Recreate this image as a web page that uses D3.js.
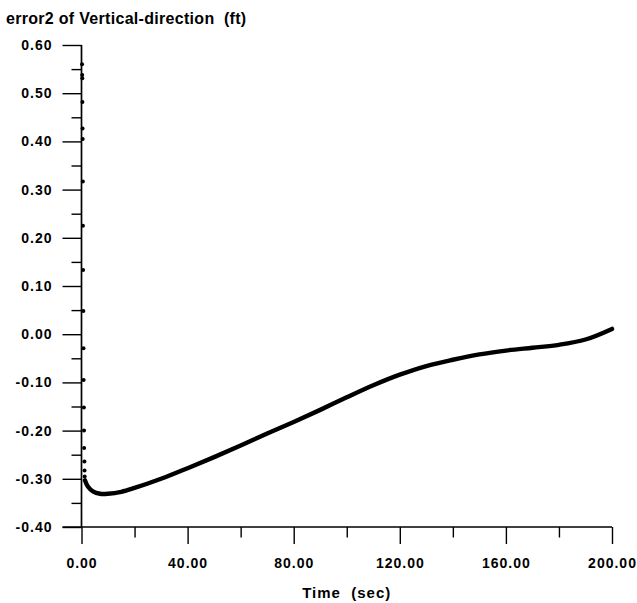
<!DOCTYPE html>
<html>
<head>
<meta charset="utf-8">
<script src="https://cdn.jsdelivr.net/npm/d3@7"></script>
<style>
  html, body { margin: 0; padding: 0; background: #fff; }
  svg { display: block; }
  text { font-family: "Liberation Sans", Arial, sans-serif; font-weight: bold; fill: #000; white-space: pre; }
</style>
</head>
<body>
<script>
// ---- data ----
const transientT = [0.2, 0.25, 0.3, 0.35, 0.4, 0.45, 0.5, 0.55, 0.6, 0.7, 0.75, 0.8, 0.9, 0.95, 1.0, 1.1, 1.15, 1.2];
const transientV = [0.560, 0.538, 0.531, 0.482, 0.427, 0.405, 0.317, 0.225, 0.133, 0.048, -0.029, -0.095, -0.152, -0.200, -0.236, -0.264, -0.283, -0.295];

const curveT = [1.3, 2.4, 4.3, 7, 10, 15, 20, 30, 40, 50, 60, 70, 80, 90, 100, 110, 120, 130, 140, 150, 160, 170, 180, 190, 200];
const curveV = [-0.303, -0.316, -0.326, -0.331, -0.331, -0.327, -0.319, -0.300, -0.278, -0.255, -0.231, -0.206, -0.182, -0.157, -0.131, -0.106, -0.084, -0.066, -0.053, -0.042, -0.034, -0.028, -0.022, -0.011, 0.011];

const yMajorTicks = [-0.40, -0.30, -0.20, -0.10, 0.00, 0.10, 0.20, 0.30, 0.40, 0.50, 0.60];
const yMinorTicks = [-0.35, -0.25, -0.15, -0.05, 0.05, 0.15, 0.25, 0.35, 0.45, 0.55];
const xMajorTicks = [0, 40, 80, 120, 160, 200];
const xMinorTicks = [20, 60, 100, 140, 180];

const titleText = "error2 of Vertical-direction  (ft)";
const xTitleText = "Time  (sec)";

// ---- chart ----
const W = 637, H = 603;
const svg = d3.select("body").append("svg").attr("width", W).attr("height", H);
svg.append("rect").attr("width", W).attr("height", H).attr("fill", "#fff");

const x = d3.scaleLinear().domain([0, 200]).range([81.5, 612]);
const y = d3.scaleLinear().domain([-0.4, 0.6]).range([527, 45]);

const fmt = d => d.toFixed(2);

// Y axis
const gy = svg.append("g").attr("transform", `translate(${x(0)},0)`);
gy.call(d3.axisLeft(y).tickValues(yMajorTicks).tickSize(19).tickPadding(10).tickFormat(fmt));
gy.append("g").call(d3.axisLeft(y).tickValues(yMinorTicks).tickSize(10).tickFormat(""));
gy.selectAll("path.domain").remove();
gy.append("line").attr("x1", 0).attr("x2", 0).attr("y1", y(0.6)).attr("y2", y(-0.4))
  .attr("stroke", "#000").attr("stroke-width", 1.7);

// X axis
const gx = svg.append("g").attr("transform", `translate(0,${y(-0.4)})`);
gx.call(d3.axisBottom(x).tickValues(xMajorTicks).tickSize(17).tickPadding(14).tickFormat(fmt));
gx.append("g").call(d3.axisBottom(x).tickValues(xMinorTicks).tickSize(10.5).tickFormat(""));
gx.selectAll("path.domain").remove();
gx.append("line").attr("x1", x(0) - 19).attr("x2", x(200)).attr("y1", 0).attr("y2", 0)
  .attr("stroke", "#000").attr("stroke-width", 1.7);

svg.selectAll(".tick line").attr("stroke", "#000").attr("stroke-width", 1.4);
svg.selectAll(".tick text")
  .style("font-family", "'Liberation Sans', Arial, sans-serif")
  .style("font-weight", "bold")
  .style("font-size", "14px")
  .style("letter-spacing", "1px")
  .attr("fill", "#000");

// curve
const pts = curveT.map((t, i) => [t, curveV[i]]);
const line = d3.line().x(d => x(d[0])).y(d => y(d[1])).curve(d3.curveCatmullRom.alpha(0.5));
svg.append("path").attr("d", line(pts)).attr("fill", "none")
  .attr("stroke", "#000").attr("stroke-width", 4.4).attr("stroke-linecap", "round").attr("stroke-linejoin", "round");

// transient dots
svg.append("g").selectAll("circle").data(transientT.map((t, i) => [t, transientV[i]]))
  .join("circle")
  .attr("cx", d => x(d[0])).attr("cy", d => y(d[1])).attr("r", 2).attr("fill", "#000");

// titles
svg.append("text").attr("x", 6).attr("y", 24)
  .style("font-size", "16px").style("letter-spacing", "0.3px")
  .text(titleText);

svg.append("text").attr("x", (x(0) + x(200)) / 2).attr("y", 598)
  .attr("text-anchor", "middle")
  .style("font-size", "15px").style("letter-spacing", "1px")
  .text(xTitleText);
</script>
</body>
</html>
